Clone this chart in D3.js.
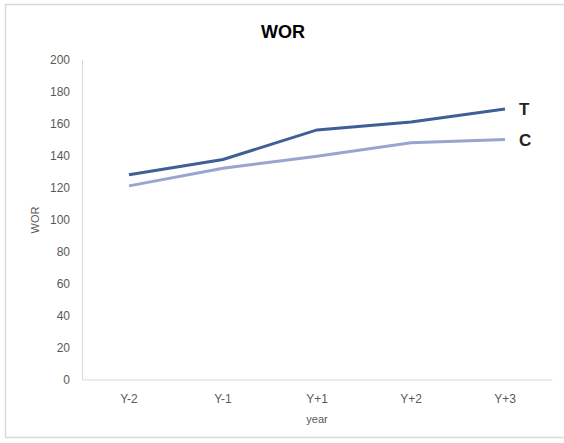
<!DOCTYPE html>
<html>
<head>
<meta charset="utf-8">
<script src="https://cdn.jsdelivr.net/npm/d3@7"></script>
<style>
  html, body { margin: 0; padding: 0; background: #fff; }
  svg { display: block; font-family: "Liberation Sans", Arial, sans-serif; }
</style>
</head>
<body>
<svg id="chart" width="564" height="443"></svg>
<script>
// Chart data
const years = ["Y-2", "Y-1", "Y+1", "Y+2", "Y+3"];
const seriesT = [128, 137.5, 156, 161, 169];
const seriesC = [121, 132, 139.5, 148, 150];
const yTicks = [0, 20, 40, 60, 80, 100, 120, 140, 160, 180, 200];

const svg = d3.select("#chart");
const margin = { left: 82, right: 12, top: 60, bottom: 64 };
const W = 564, H = 443;

// Outer chart frame
svg.append("rect")
  .attr("x", 5.5).attr("y", 4.5)
  .attr("width", 570).attr("height", 433)
  .attr("fill", "#fff").attr("stroke", "#d9d9d9").attr("stroke-width", 1.5);

const x = d3.scaleBand().domain(years).range([82, 552]);
const y = d3.scaleLinear().domain([0, 200]).range([379.5, 59.5]);

// Title
svg.append("text")
  .attr("x", 283).attr("y", 38)
  .attr("text-anchor", "middle")
  .attr("font-size", 18).attr("font-weight", "bold")
  .attr("fill", "#000")
  .text("WOR");

// Y axis
const yAxis = d3.axisLeft(y).tickValues(yTicks).tickSize(0).tickPadding(12);
const gy = svg.append("g").attr("transform", "translate(82,0)").call(yAxis);
gy.select(".domain").attr("stroke", "#d9d9d9");
gy.selectAll("text").attr("font-size", 12).attr("fill", "#595959")
  .attr("font-family", "Liberation Sans, Arial, sans-serif");

// X axis
const xAxis = d3.axisBottom(x).tickSize(0).tickPadding(15);
const gx = svg.append("g").attr("transform", "translate(0,379.5)").call(xAxis);
gx.select(".domain").attr("stroke", "#d9d9d9");
gx.selectAll("text").attr("font-size", 12).attr("fill", "#595959")
  .attr("font-family", "Liberation Sans, Arial, sans-serif");

// Axis titles
svg.append("text")
  .attr("x", 317).attr("y", 423)
  .attr("text-anchor", "middle")
  .attr("font-size", 11).attr("fill", "#595959")
  .text("year");

svg.append("text")
  .attr("transform", "translate(39,220) rotate(-90)")
  .attr("text-anchor", "middle")
  .attr("font-size", 11).attr("fill", "#595959")
  .text("WOR");

// Lines
const line = d3.line()
  .x((d, i) => x(years[i]) + x.bandwidth() / 2)
  .y(d => y(d));

svg.append("path").datum(seriesC)
  .attr("d", line).attr("fill", "none")
  .attr("stroke", "#98a6cf").attr("stroke-width", 3);

svg.append("path").datum(seriesT)
  .attr("d", line).attr("fill", "none")
  .attr("stroke", "#3f5f96").attr("stroke-width", 3);

// End labels
const lastX = x(years[years.length - 1]) + x.bandwidth() / 2;
svg.append("text")
  .attr("x", lastX + 14).attr("y", y(seriesT[seriesT.length - 1]) + 6)
  .attr("font-size", 17).attr("font-weight", "bold").attr("fill", "#222")
  .text("T");
svg.append("text")
  .attr("x", lastX + 14).attr("y", y(seriesC[seriesC.length - 1]) + 6)
  .attr("font-size", 17).attr("font-weight", "bold").attr("fill", "#222")
  .text("C");
</script>
</body>
</html>
